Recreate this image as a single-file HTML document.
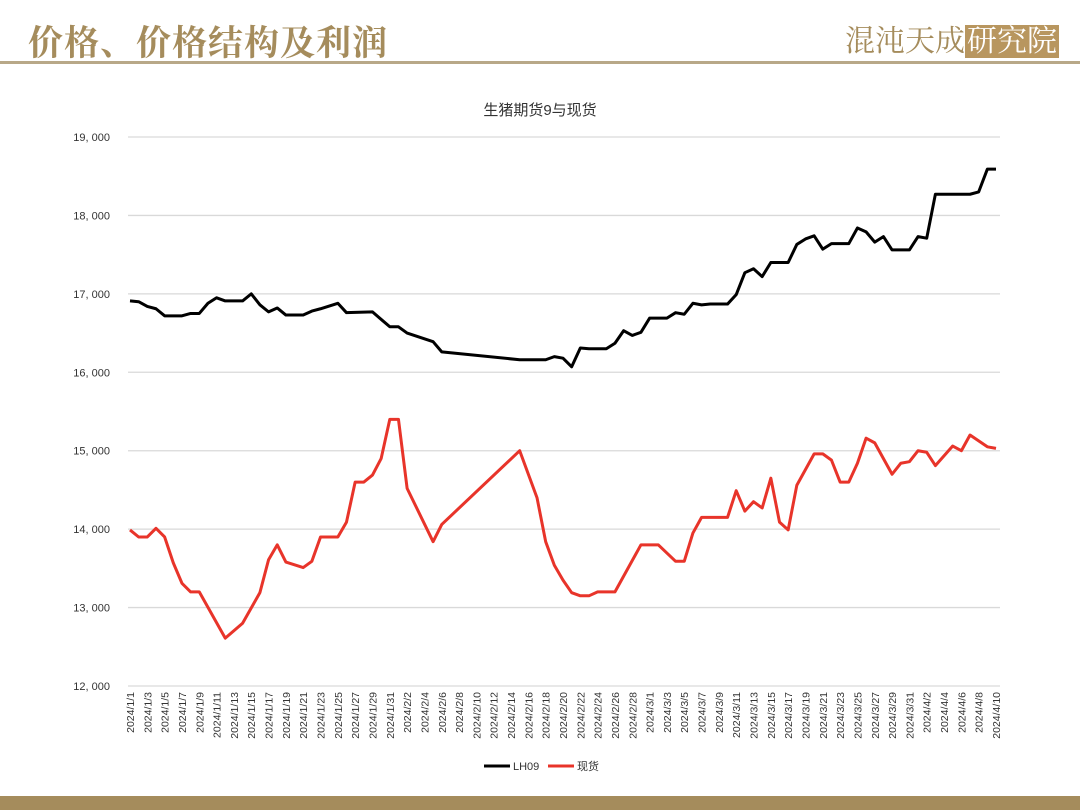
<!DOCTYPE html>
<html><head><meta charset="utf-8"><style>
body{margin:0;width:1080px;height:810px;background:#fff;overflow:hidden;position:relative;font-family:"Liberation Sans","Noto Sans CJK SC",sans-serif}
.title{position:absolute;left:28px;top:16px;font-size:35px;color:#a58c5c;font-family:"Liberation Serif","Noto Serif CJK SC",serif;font-weight:bold;letter-spacing:1px}
.rule{position:absolute;left:0;top:61px;width:1080px;height:3px;background:#b8a888}
.logo{position:absolute;left:845px;top:16px;font-size:30px;color:#a58c5c;font-family:"Liberation Serif","Noto Serif CJK SC",serif}
.logo span{background:#b8965f;color:#fff;padding:0 2px}
.bottom{position:absolute;left:0;top:796px;width:1080px;height:14px;background:#a58c5c}
</style></head><body>
<div class="title">价格、价格结构及利润</div>
<div class="logo">混沌天成<span>研究院</span></div>
<div class="rule"></div>
<svg id="chart" width="1080" height="810" style="position:absolute;left:0;top:0"></svg>
<div class="bottom"></div>
<script>
const yTicks=[12000,13000,14000,15000,16000,17000,18000,19000];
const lhDays=[0,1,2,3,4,6,7,8,9,10,11,13,14,15,16,17,18,20,21,22,24,25,28,30,31,32,35,36,45,48,49,50,51,52,53,55,56,57,58,59,60,62,63,64,65,66,67,69,70,71,72,73,74,76,77,78,79,80,81,83,84,85,86,87,88,90,91,92,93,97,98,99,100];
const lhValues=[16910,16900,16840,16810,16720,16720,16750,16750,16880,16950,16910,16910,17000,16860,16770,16820,16730,16730,16780,16810,16880,16760,16770,16580,16580,16500,16390,16260,16160,16160,16200,16180,16070,16310,16300,16300,16370,16530,16470,16510,16690,16690,16760,16740,16880,16860,16870,16870,16990,17270,17320,17220,17400,17400,17630,17700,17740,17570,17640,17640,17840,17790,17660,17730,17560,17560,17730,17710,18270,18270,18300,18590,18590];
const spotDays=[0,1,2,3,4,5,6,7,8,11,13,15,16,17,18,20,21,22,24,25,26,27,28,29,30,31,32,35,36,45,47,48,49,50,51,52,53,54,56,59,61,63,64,65,66,69,70,71,72,73,74,75,76,77,79,80,81,82,83,84,85,86,88,89,90,91,92,93,95,96,97,99,100];
const spotValues=[13990,13900,13900,14010,13900,13570,13310,13200,13200,12610,12800,13190,13610,13800,13580,13510,13590,13900,13900,14090,14600,14600,14690,14900,15400,15400,14520,13840,14060,15000,14400,13840,13540,13350,13190,13150,13150,13200,13200,13800,13800,13590,13590,13950,14150,14150,14490,14230,14350,14270,14650,14090,13990,14560,14960,14960,14880,14600,14600,14840,15160,15100,14700,14840,14860,15000,14980,14810,15060,15000,15200,15050,15030];
const totalDays=101;
const svg=document.getElementById('chart');const NS='http://www.w3.org/2000/svg';
const X0=130,X1=996,Y0=686,Y1=137;
const xs=d=>X0+d*(X1-X0)/(totalDays-1);
const ys=v=>Y0-(v-12000)*(Y0-Y1)/7000;
function mk(t,a){const e=document.createElementNS(NS,t);for(const k in a)e.setAttribute(k,a[k]);svg.appendChild(e);return e;}
const ct=mk('text',{x:540,y:115,'text-anchor':'middle','font-size':15,fill:'#333'});ct.textContent='生猪期货9与现货';


yTicks.forEach(v=>{
 const g=mk('line',{x1:X0-2,x2:X1+4,y1:ys(v),y2:ys(v),stroke:'#d9d9d9','stroke-width':1.3});
 
 
 const t=mk('text',{x:110,y:ys(v)+4,'text-anchor':'end','font-size':11,fill:'#333'});
 t.textContent=v.toLocaleString('en-US').replace(',',', ');
 
 
});
const base=new Date(2024,0,1);
for(let d=0;d<totalDays;d+=2){
 const dt=new Date(base.getTime()+d*86400000);
 const lab=`2024/${dt.getMonth()+1}/${dt.getDate()}`;
 const t=mk('text',{x:0,y:0,'text-anchor':'end','font-size':10.5,fill:'#333',transform:`translate(${xs(d)+4},692) rotate(-90)`});
 t.textContent=lab;
 
 
}
function line(days,vals,color,name){
 const p=mk('polyline',{points:days.map((d,i)=>xs(d)+','+ys(vals[i])).join(' '),fill:'none',stroke:color,'stroke-width':3,'stroke-linejoin':'round'});
 
 
}
line(spotDays,spotValues,'#e8342a','spot-series-line');
line(lhDays,lhValues,'#000','lh09-series-line');
const l1=mk('line',{x1:484,x2:510,y1:766,y2:766,stroke:'#000','stroke-width':3});


const t1=mk('text',{x:513,y:770,'font-size':11,fill:'#333'});t1.textContent='LH09';


const l2=mk('line',{x1:548,x2:574,y1:766,y2:766,stroke:'#e8342a','stroke-width':3});


const t2=mk('text',{x:577,y:770,'font-size':11,fill:'#333'});t2.textContent='现货';


</script>
</body></html>
